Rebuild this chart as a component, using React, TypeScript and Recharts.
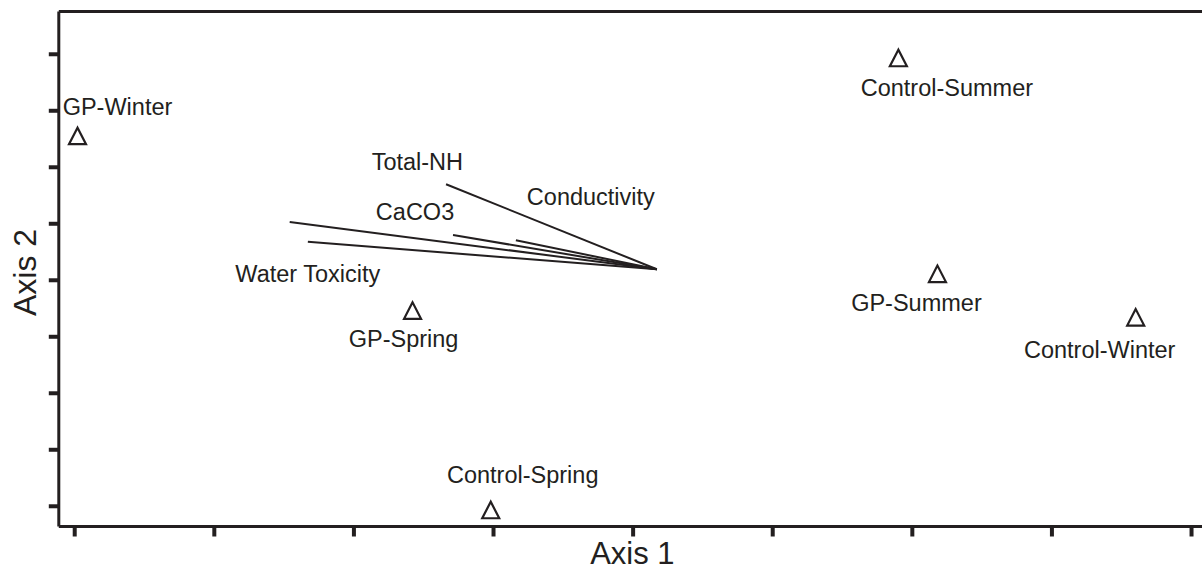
import React from 'react';
import { ScatterChart, Scatter, XAxis, YAxis, ReferenceLine, Label } from 'recharts';

// Tick positions (unlabelled ticks)
const xTicks = [0, 1, 2, 3, 4, 5, 6, 7, 8];
const yTicks = [0, 1, 2, 3, 4, 5, 6, 7, 8];

// Sample scores
const sampleNames = ['GP-Winter', 'Control-Summer', 'GP-Summer', 'Control-Winter', 'GP-Spring', 'Control-Spring'];
const sampleAxis1 = [0.02, 5.9, 6.18, 7.6, 2.42, 2.98];
const sampleAxis2 = [6.55, 7.93, 4.11, 3.34, 3.46, -0.07];

// Environmental vectors (all start from a common origin)
const vectorOrigin = { x: 4.17, y: 4.195 };
const vectorNames = ['', 'Water Toxicity', 'Total-NH', 'CaCO3', 'Conductivity'];
const vectorAxis1 = [1.54, 1.67, 2.66, 2.71, 3.16];
const vectorAxis2 = [5.03, 4.68, 5.7, 4.8, 4.71];

const X_DOMAIN: [number, number] = [-0.114, 8.075];
const Y_DOMAIN: [number, number] = [-0.358, 8.757];

const INK = '#231f20';
const FONT = '"Liberation Sans", Arial, Helvetica, sans-serif';

// Label placements relative to the marks (pixels)
const sampleLabelOffset: Record<string, [number, number]> = {
  'GP-Winter': [40, -21],
  'Control-Summer': [48.5, 37.5],
  'GP-Summer': [-21, 37],
  'Control-Winter': [-36, 40.5],
  'GP-Spring': [-9, 36],
  'Control-Spring': [32, -27],
};
const vectorLabelOffset: Record<string, [number, number]> = {
  'Water Toxicity': [0, 40],
  'Total-NH': [-28.7, -14.3],
  'CaCO3': [-38, -15],
  'Conductivity': [75, -35],
};

const samples = sampleNames.map((name, i) => ({ name, x: sampleAxis1[i], y: sampleAxis2[i] }));
const vectors = vectorNames.map((name, i) => ({ name, x: vectorAxis1[i], y: vectorAxis2[i] }));

const NoTick = () => <g />;

const SampleShape = (props: any) => {
  const { cx, cy, payload } = props;
  if (cx == null || cy == null) return null;
  const off = sampleLabelOffset[payload.name] || [0, 0];
  return (
    <g>
      <polygon
        points={`${cx},${cy - 8.5} ${cx - 8.5},${cy + 8} ${cx + 8.5},${cy + 8}`}
        fill="none"
        stroke={INK}
        strokeWidth={2.2}
      />
      <text x={cx + off[0]} y={cy + off[1]} textAnchor="middle" fontFamily={FONT} fontSize={23.5} fill={INK}>
        {payload.name}
      </text>
    </g>
  );
};

const VectorLabelShape = (props: any) => {
  const { cx, cy, payload } = props;
  if (cx == null || cy == null || !payload.name) return <g />;
  const off = vectorLabelOffset[payload.name] || [0, 0];
  return (
    <text x={cx + off[0]} y={cy + off[1]} textAnchor="middle" fontFamily={FONT} fontSize={23.5} fill={INK}>
      {payload.name}
    </text>
  );
};

export default function App() {
  return (
    <div style={{ position: 'absolute', left: 0, top: 0, background: '#fff' }}>
      <ScatterChart width={1202} height={571} margin={{ top: 11.5, right: 0, bottom: 0, left: 0 }}>
        <XAxis
          xAxisId="b"
          type="number"
          dataKey="x"
          domain={X_DOMAIN}
          ticks={xTicks}
          interval={0}
          allowDataOverflow
          tick={NoTick}
          tickSize={10}
          height={44.5}
          axisLine={{ stroke: INK, strokeWidth: 3 }}
          tickLine={{ stroke: INK, strokeWidth: 4 }}
        >
          <Label value="Axis 1" position="insideBottom" offset={7.5} dx={2} fontFamily={FONT} fontSize={31} fill={INK} />
        </XAxis>
        <YAxis
          yAxisId="l"
          type="number"
          dataKey="y"
          domain={Y_DOMAIN}
          ticks={yTicks}
          interval={0}
          allowDataOverflow
          tick={NoTick}
          tickSize={10}
          width={58.8}
          axisLine={{ stroke: INK, strokeWidth: 3 }}
          tickLine={{ stroke: INK, strokeWidth: 4 }}
        >
          <Label
            content={() => (
              <text
                x={0}
                y={0}
                transform="translate(36,272.5) rotate(-90)"
                textAnchor="middle"
                fontFamily={FONT}
                fontSize={32}
                fill={INK}
              >
                Axis 2
              </text>
            )}
          />
        </YAxis>
        <ReferenceLine
          xAxisId="b"
          yAxisId="l"
          y={Y_DOMAIN[1]}
          stroke={INK}
          strokeWidth={3}
          ifOverflow="visible"
        />
        {vectors.map((v, i) => (
          <ReferenceLine
            key={i}
            xAxisId="b"
            yAxisId="l"
            segment={[vectorOrigin, { x: v.x, y: v.y }]}
            stroke={INK}
            strokeWidth={2}
            ifOverflow="visible"
          />
        ))}
        <Scatter
          xAxisId="b"
          yAxisId="l"
          data={vectors}
          shape={VectorLabelShape}
          isAnimationActive={false}
        />
        <Scatter
          xAxisId="b"
          yAxisId="l"
          data={samples}
          shape={SampleShape}
          isAnimationActive={false}
        />
      </ScatterChart>
    </div>
  );
}
